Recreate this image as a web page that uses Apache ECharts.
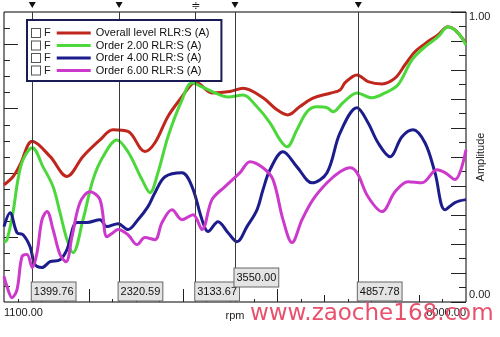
<!DOCTYPE html>
<html><head><meta charset="utf-8">
<script src="https://cdn.jsdelivr.net/npm/echarts@6/dist/echarts.min.js"></script>
<style>html,body{margin:0;padding:0;background:#fff}#c{width:500px;height:337px}</style>
</head><body><div id="c"></div>
<script>
// ---------- data ----------
const seriesNames = ['Overall level RLR:S (A)', 'Order 2.00 RLR:S (A)', 'Order 4.00 RLR:S (A)', 'Order 6.00 RLR:S (A)'];
const seriesColors = ['#c0261c', '#4cd83a', '#1c1c8c', '#cc3acc'];

const overallData = [
  [1100,0.404],[1195,0.432],[1270,0.473],[1400,0.554],[1588,0.502],[1768,0.433],[1938,0.502],
  [2118,0.559],[2256,0.594],[2415,0.588],[2595,0.519],[2701,0.549],[2839,0.640],[2988,0.708],
  [3094,0.752],[3140,0.756],[3306,0.721],[3497,0.726],[3635,0.737],[3847,0.704],[3995,0.663],
  [4109,0.645],[4239,0.674],[4377,0.703],[4558,0.720],[4664,0.731],[4720,0.757],[4844,0.783],
  [4961,0.760],[5109,0.752],[5247,0.772],[5353,0.818],[5459,0.863],[5597,0.898],[5703,0.921],
  [5809,0.949],[5883,0.938],[6000,0.892]
];
const order2Data = [
  [1100,0.205],[1132,0.215],[1195,0.308],[1248,0.422],[1302,0.491],[1400,0.532],[1514,0.466],
  [1620,0.398],[1694,0.308],[1768,0.215],[1832,0.170],[1938,0.284],[2044,0.422],[2150,0.501],
  [2298,0.559],[2415,0.518],[2564,0.422],[2648,0.377],[2733,0.446],[2839,0.570],[2988,0.697],
  [3094,0.756],[3200,0.742],[3338,0.721],[3476,0.707],[3635,0.714],[3783,0.673],[3921,0.618],
  [4027,0.559],[4101,0.535],[4207,0.594],[4314,0.656],[4420,0.673],[4526,0.670],[4589,0.656],
  [4695,0.687],[4844,0.721],[5003,0.704],[5141,0.721],[5279,0.749],[5427,0.835],[5565,0.880],
  [5703,0.914],[5809,0.948],[5915,0.928],[6000,0.886]
];
const order4Data = [
  [1100,0.260],[1164,0.308],[1238,0.239],[1302,0.232],[1376,0.191],[1429,0.129],[1503,0.119],
  [1588,0.139],[1694,0.146],[1768,0.181],[1874,0.274],[1980,0.274],[2118,0.284],[2192,0.260],
  [2309,0.270],[2415,0.250],[2521,0.284],[2627,0.329],[2701,0.377],[2808,0.432],[2988,0.446],
  [3094,0.398],[3200,0.284],[3264,0.243],[3370,0.277],[3476,0.239],[3571,0.208],[3677,0.260],
  [3783,0.318],[3847,0.387],[3921,0.456],[4059,0.518],[4207,0.466],[4367,0.411],[4526,0.446],
  [4664,0.583],[4844,0.670],[4961,0.618],[5067,0.549],[5194,0.501],[5321,0.570],[5438,0.594],
  [5565,0.549],[5671,0.446],[5777,0.318],[5883,0.343],[6000,0.353]
];
const order6Data = [
  [1100,0.088],[1132,0.053],[1185,0.015],[1238,0.043],[1291,0.157],[1344,0.164],[1400,0.119],
  [1450,0.170],[1503,0.284],[1556,0.312],[1620,0.250],[1694,0.164],[1758,0.139],[1821,0.225],
  [1906,0.343],[2012,0.380],[2118,0.353],[2192,0.225],[2256,0.239],[2309,0.250],[2415,0.232],
  [2511,0.198],[2595,0.222],[2701,0.215],[2776,0.274],[2882,0.318],[2988,0.284],[3105,0.301],
  [3200,0.250],[3306,0.353],[3444,0.398],[3603,0.446],[3709,0.484],[3847,0.463],[3953,0.422],
  [4059,0.284],[4155,0.205],[4261,0.284],[4377,0.353],[4526,0.411],[4664,0.449],[4770,0.463],
  [4844,0.446],[4961,0.363],[5109,0.312],[5247,0.380],[5385,0.415],[5533,0.411],[5692,0.456],
  [5777,0.446],[5883,0.422],[6000,0.525]
];

const cursorRpm = [1399.76, 2320.59, 3133.67, 3550.00, 4857.78];
const cursorKinds = ['cursor', 'cursor', 'band', 'cursor', 'cursor'];

const rpmMin = 1100, rpmMax = 6000;
const xLabelValues = [1100, 6000];
const xTicksQuarter = [1250,1750,2250,2750,3250,3750,4250,4750,5250,5750];
const xTicksHalf = [1500,2500,3500,4500,5500];
const xTicksThousand = [2000,3000,4000,5000];
const yLabelValues = [0, 1];
const leftTicksMinor = [1,2,3,5,6,7,9,10,11,13,14,15,17];
const leftTicksMajor = [4,8,12,16];

// ---------- chart ----------
const FONT = 'Liberation Sans, Arial, sans-serif';
const chart = echarts.init(document.getElementById('c'), null, {renderer: 'canvas'});
const allData = [overallData, order2Data, order4Data, order6Data];

function xAxisDef(ticks, len, withLabels) {
  return {
    type: 'value', min: rpmMin, max: rpmMax, position: 'bottom',
    axisLine: {show: false}, splitLine: {show: false},
    axisTick: {show: true, inside: true, length: len, customValues: ticks, lineStyle: {color: '#222', width: 1}},
    axisLabel: withLabels ? {
      show: true, customValues: xLabelValues, margin: 5, fontSize: 11, color: '#222', fontFamily: FONT,
      formatter: v => v.toFixed(2), alignMinLabel: 'left', alignMaxLabel: 'right'
    } : {show: false},
    name: withLabels ? 'rpm' : '', nameLocation: 'middle', nameGap: 8, nameMoveOverlap: false,
    nameTextStyle: {fontSize: 11, color: '#222', fontFamily: FONT, verticalAlign: 'top'}
  };
}
function leftAxisDef(ticks, len) {
  return {
    type: 'value', min: 0, max: 18, position: 'left',
    axisLine: {show: false}, splitLine: {show: false}, axisLabel: {show: false},
    axisTick: {show: true, inside: true, length: len, customValues: ticks, lineStyle: {color: '#222'}}
  };
}

// cursor markers
const markPointData = [];
let prev = -Infinity;
cursorRpm.forEach((v, i) => {
  if (cursorKinds[i] === 'cursor') {
    markPointData.push({coord: [v, 1], symbol: 'triangle', symbolRotate: 180, symbolSize: [7, 6],
      symbolOffset: [0, -7], itemStyle: {color: '#111'}, label: {show: false}});
  } else {
    markPointData.push({coord: [v, 1], symbol: 'rect', symbolSize: 1, itemStyle: {color: 'rgba(0,0,0,0)'},
      label: {show: true, formatter: '\u2251', position: 'inside', offset: [0, -6], fontSize: 11, color: '#111', fontFamily: 'DejaVu Sans'}});
  }
  const raised = (v - prev) < 600;
  prev = v;
  markPointData.push({coord: [v, 0], symbol: 'rect', symbolSize: 1, itemStyle: {color: 'rgba(0,0,0,0)'},
    label: {show: true, formatter: v.toFixed(2), position: [0, raised ? -33 : -19],
      backgroundColor: '#e4e4e4', borderColor: '#666', borderWidth: 1, padding: [3, 2, 2, 2],
      fontSize: 11, lineHeight: 13, color: '#111', fontFamily: FONT}});
});

const series = seriesNames.map((name, i) => {
  const s = {
    name, type: 'line', xAxisIndex: 0, yAxisIndex: 0, data: allData[i],
    showSymbol: false, smooth: 0.35, clip: false,
    lineStyle: {color: seriesColors[i], width: 3}, itemStyle: {color: seriesColors[i]},
    emphasis: {disabled: true}, z: 2 + i
  };
  if (i === 0) {
    s.markLine = {silent: true, symbol: ['none', 'none'], label: {show: false},
      lineStyle: {color: '#3a3a3a', width: 1, type: 'solid'}, emphasis: {disabled: true},
      data: cursorRpm.map(v => ({xAxis: v}))};
    s.markPoint = {silent: true, data: markPointData, z: 20};
  }
  return s;
});

const rich = {
  cb: {width: 8, height: 8, borderColor: '#555', borderWidth: 1, backgroundColor: '#fff'},
  g4: {width: 4}, g6: {width: 6}, g5: {width: 5},
  f: {fontSize: 11, color: '#222', fontFamily: FONT, lineHeight: 14},
  t: {fontSize: 11, color: '#111', fontFamily: FONT, lineHeight: 14}
};
seriesColors.forEach((c, i) => { rich['l' + i] = {width: 34, height: 3, backgroundColor: c}; });

chart.setOption({
  animation: false,
  backgroundColor: '#fff',
  grid: {left: 4, right: 34, top: 12, bottom: 35, show: true, borderColor: '#000', borderWidth: 1,
    backgroundColor: 'transparent', containLabel: false, outerBoundsMode: 'none'},
  legend: {
    show: true, orient: 'vertical', left: 27, top: 20, padding: [6, 12, 5, 0], itemGap: 0,
    icon: 'none', itemWidth: 0, itemHeight: 14, selectedMode: false,
    backgroundColor: '#fff', borderColor: '#1a1a55', borderWidth: 2, z: 30,
    data: seriesNames,
    formatter: name => {
      const i = seriesNames.indexOf(name);
      return '{cb|}{g4|}{f|F}{g6|}{l' + i + '|}{g5|}{t|' + name + '}';
    },
    textStyle: {rich: rich, fontSize: 11, fontFamily: FONT}
  },
  xAxis: [xAxisDef(xTicksQuarter, 3, true), xAxisDef(xTicksHalf, 7, false), xAxisDef(xTicksThousand, 13, false)],
  yAxis: [
    {
      type: 'value', position: 'right', min: 0, max: 1, interval: 0.1,
      axisLine: {show: false}, splitLine: {show: false},
      axisTick: {show: true, inside: true, length: 15, lineStyle: {color: '#222'}},
      minorTick: {show: true, splitNumber: 2, length: 7, lineStyle: {color: '#222'}},
      minorSplitLine: {show: false},
      axisLabel: {show: true, customValues: yLabelValues, margin: 3, fontSize: 11, color: '#222', fontFamily: FONT,
        formatter: v => (v > 0.5 ? '{t|' + v.toFixed(2) + '}' : '{b|' + v.toFixed(2) + '}'),
        rich: {t: {padding: [10, 0, 0, 0], fontSize: 11, color: '#222', fontFamily: FONT},
               b: {padding: [0, 0, 15, 0], fontSize: 11, color: '#222', fontFamily: FONT}}},
      name: 'Amplitude', nameLocation: 'middle', nameRotate: 90, nameGap: 9, nameMoveOverlap: false,
      nameTextStyle: {fontSize: 11, color: '#222', fontFamily: FONT}
    },
    leftAxisDef(leftTicksMinor, 6),
    leftAxisDef(leftTicksMajor, 14)
  ],
  graphic: [{
    type: 'text', left: 250, top: 303, silent: true, z: 100,
    style: {text: 'www.zaoche168.com', fill: '#e8506c', font: '23px "DejaVu Sans"'}
  }],
  series
});
</script></body></html>
